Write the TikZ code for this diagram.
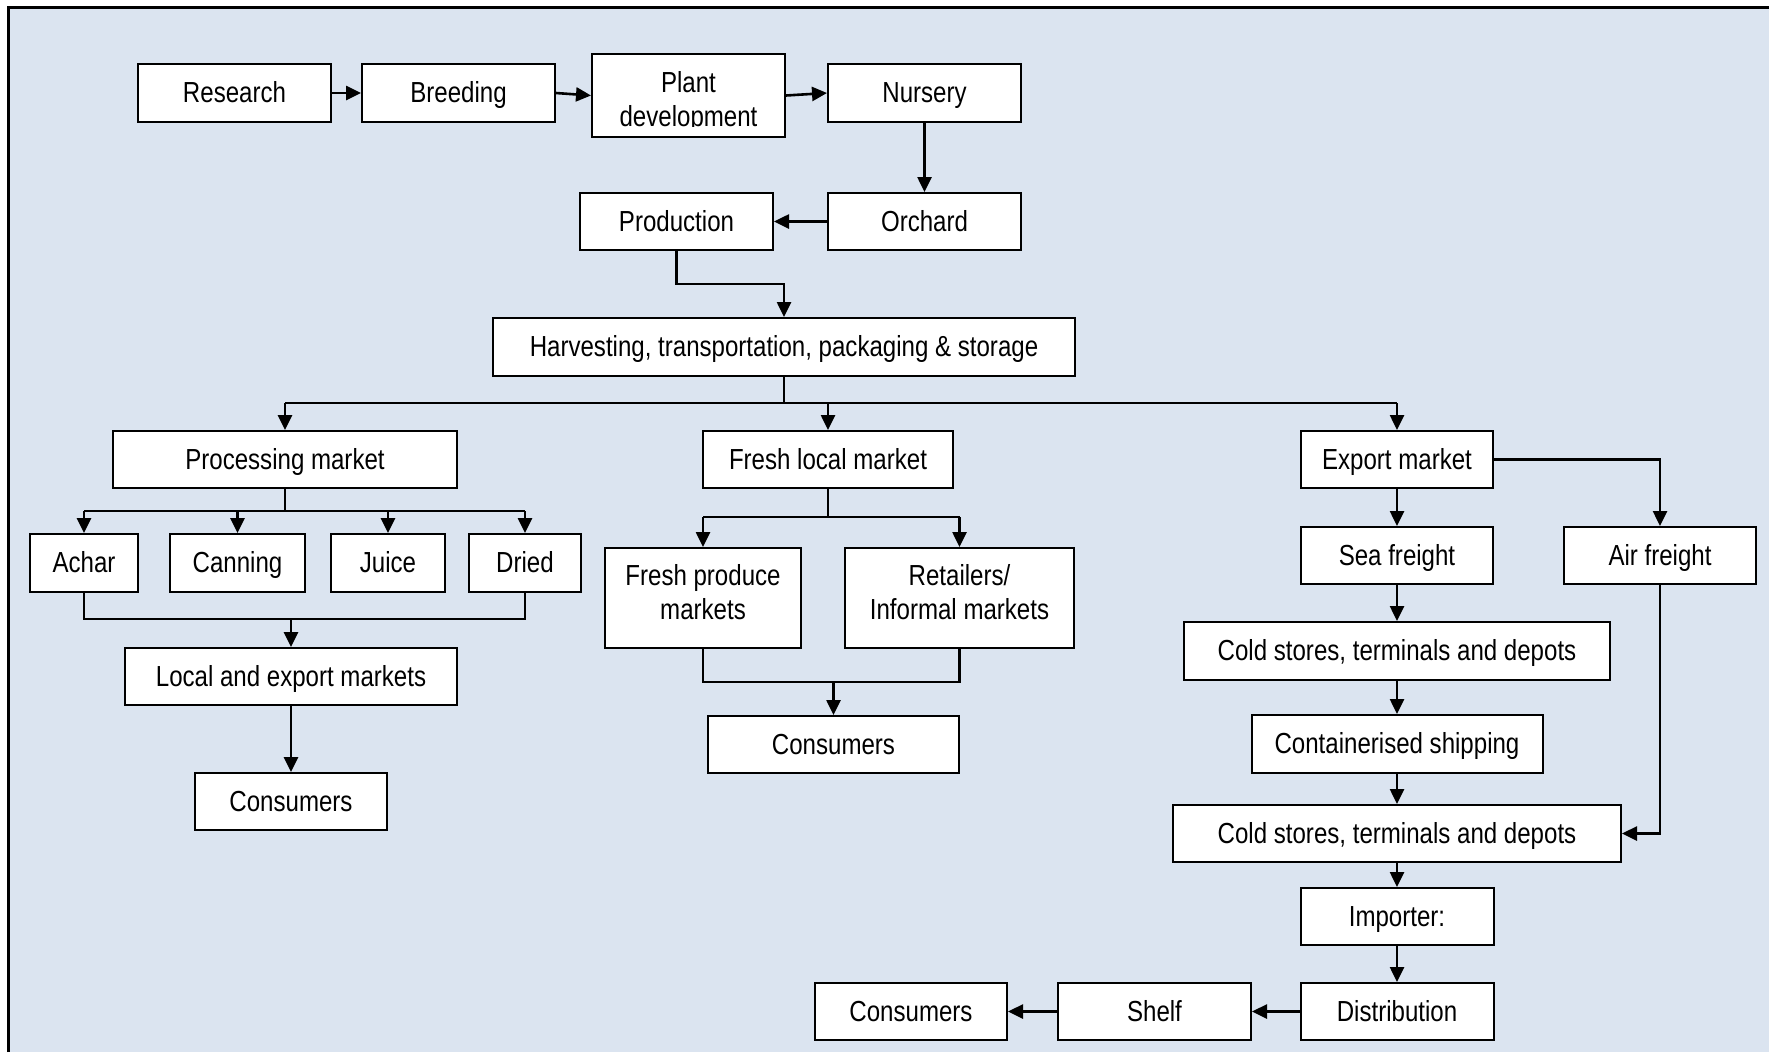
\documentclass[tikz,border=0pt]{standalone}
\usepackage{fontspec}
\setmainfont{Liberation Sans}[FakeStretch=0.83]
\usetikzlibrary{arrows.meta,calc}
\definecolor{bgblue}{RGB}{219,228,240}
\newcommand\diafont{\fontsize{29bp}{34bp}\selectfont}
\tikzset{
 wh/.style 2 args={minimum width=#1bp, minimum height=#2bp},
 box/.style={draw=black, fill=white, line width=2bp, inner sep=0pt, font=\diafont, text height=21bp, text depth=2bp},
 tbox/.style={draw=black, fill=white, line width=2bp, inner sep=0pt},
 ttext/.style={inner sep=0pt, font=\diafont, align=center},
 conn/.style={line width=2.6bp, draw=black},
 arr/.style={conn, -{Triangle[length=15bp,width=14bp]}},
}
\begin{document}
\begin{tikzpicture}[x=1bp,y=-1bp]
\fill[white] (0,0) rectangle (1769,1052);
\useasboundingbox (0,0) rectangle (1769,1052);
\fill[bgblue] (8,7.5) rectangle (1769,1052);
\draw[line width=3bp] (8,1052) -- (8,7.5) -- (1769,7.5);

% top row
\node[box, wh={193}{58}] (research) at (234.5,93) {Research};
\node[box, wh={193}{58}] (breeding) at (458.5,93) {Breeding};
\node[tbox, wh={193}{83}] (plant) at (688.5,95.5) {};
\begin{scope}
\clip (plant.north west) rectangle (plant.east |- 0,126.5);
\node[ttext] (plantt) at (688.5,101.6) {Plant\\development};
\end{scope}
\node[box, wh={193}{58}] (nursery) at (924.5,93) {Nursery};
\node[box, wh={193}{57}] (orchard) at (924.5,221.5) {Orchard};
\node[box, wh={193}{57}] (production) at (676.5,221.5) {Production};
\node[box, wh={582}{58}] (harv) at (784,347) {Harvesting, transportation, packaging \& storage};

% markets
\node[box, wh={344}{57}] (proc) at (285,459.5) {Processing market};
\node[box, wh={250}{57}] (fresh) at (828,459.5) {Fresh local market};
\node[box, wh={192}{57}] (export) at (1397,459.5) {Export market};

% processing branch
\node[box, wh={108}{58}] (achar) at (84,563) {Achar};
\node[box, wh={135}{58}] (canning) at (237.5,563) {Canning};
\node[box, wh={114}{58}] (juice) at (388,563) {Juice};
\node[box, wh={112}{58}] (dried) at (525,563) {Dried};
\node[box, wh={332}{57}] (local) at (291,676.5) {Local and export markets};
\node[box, wh={192}{57}] (consA) at (291,801.5) {Consumers};

% fresh branch
\node[tbox, wh={196}{100}] (fpm) at (703,598) {};
\node[ttext] (fpmt) at (703,592.5) {Fresh produce\\markets};
\node[tbox, wh={229}{100}] (retail) at (959.5,598) {};
\node[ttext] (retailt) at (959.5,592.5) {Retailers/\\Informal markets};
\node[box, wh={251}{57}] (consB) at (833.5,744.5) {Consumers};

% export branch
\node[box, wh={192}{57}] (sea) at (1397,555.5) {Sea freight};
\node[box, wh={192}{57}] (air) at (1660,555.5) {Air freight};
\node[box, wh={426}{58}] (coldA) at (1397,651) {Cold stores, terminals and depots};
\node[box, wh={291}{58}] (cont) at (1397,744) {Containerised shipping};
\node[box, wh={448}{57}] (coldB) at (1397,833.5) {Cold stores, terminals and depots};
\node[box, wh={193}{57}] (importer) at (1397,916.5) {Importer:};
\node[box, wh={193}{57}] (distrib) at (1397,1011.5) {Distribution};
\node[box, wh={193}{57}] (shelf) at (1154.5,1011.5) {Shelf};
\node[box, wh={192}{57}] (consC) at (911,1011.5) {Consumers};

% connectors: top
\draw[arr] (research.east) -- (breeding.west);
\draw[arr] (breeding.east) -- (plant.west);
\draw[arr] (plant.east) -- (nursery.west);
\draw[arr] (nursery.south) -- (orchard.north);
\draw[arr] (orchard.west) -- (production.east);
\coordinate (pturn) at (0,284);
\draw[arr] (production.south) -- (production.south |- pturn) -| (harv.north);

% harvest bus
\coordinate (hbus) at (0,403);
\draw[conn] (harv.south) -- (harv.south |- hbus);
\draw[conn] (proc.north |- hbus) -- (export.north |- hbus);
\draw[arr] (proc.north |- hbus) -- (proc.north);
\draw[arr] (fresh.north |- hbus) -- (fresh.north);
\draw[arr] (export.north |- hbus) -- (export.north);

% processing
\coordinate (pbus) at (0,511);
\draw[conn] (proc.south) -- (proc.south |- pbus);
\draw[conn] (achar.north |- pbus) -- (dried.north |- pbus);
\draw[arr] (achar.north |- pbus) -- (achar.north);
\draw[arr] (canning.north |- pbus) -- (canning.north);
\draw[arr] (juice.north |- pbus) -- (juice.north);
\draw[arr] (dried.north |- pbus) -- (dried.north);
\coordinate (pjoin) at (0,619);
\draw[conn] (achar.south) |- (dried.south |- pjoin) -- (dried.south);
\draw[arr] (local.north |- pjoin) -- (local.north);
\draw[arr] (local.south) -- (consA.north);

% fresh
\coordinate (fbus) at (0,517);
\draw[conn] (fresh.south) -- (fresh.south |- fbus);
\draw[conn] (fpm.north |- fbus) -- (retail.north |- fbus);
\draw[arr] (fpm.north |- fbus) -- (fpm.north);
\draw[arr] (retail.north |- fbus) -- (retail.north);
\coordinate (fjoin) at (0,682);
\draw[conn] (fpm.south) |- (retail.south |- fjoin) -- (retail.south);
\draw[arr] (consB.north |- fjoin) -- (consB.north);

% export
\draw[arr] (export.south) -- (sea.north);
\draw[arr] (export.east) -| (air.north);
\draw[arr] (sea.south) -- (coldA.north);
\draw[arr] (coldA.south) -- (cont.north);
\draw[arr] (cont.south) -- (coldB.north);
\draw[arr] (air.south) |- (coldB.east);
\draw[arr] (coldB.south) -- (importer.north);
\draw[arr] (importer.south) -- (distrib.north);
\draw[arr] (distrib.west) -- (shelf.east);
\draw[arr] (shelf.west) -- (consC.east);
\end{tikzpicture}
\end{document}
